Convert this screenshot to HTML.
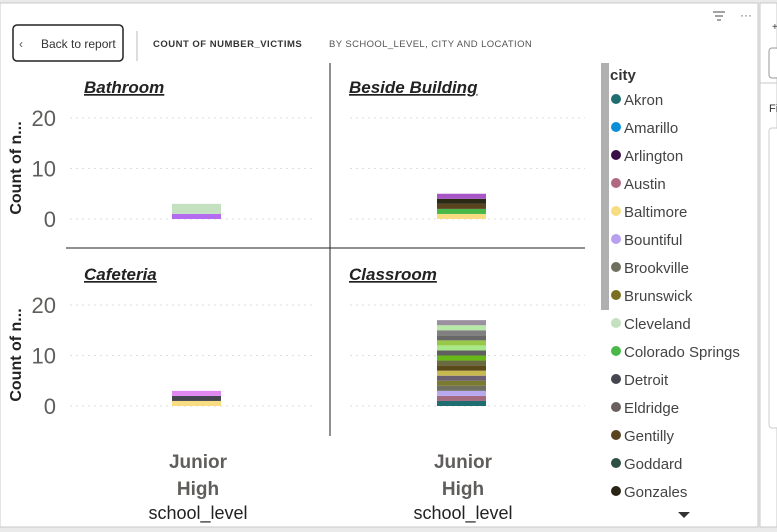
<!DOCTYPE html>
<html><head><meta charset="utf-8"><style>
body{margin:0;width:777px;height:532px;overflow:hidden;background:#fff;font-family:"Liberation Sans",sans-serif;}
svg{display:block}
</style></head><body>
<svg width="777" height="532">
<rect x="0" y="0" width="777" height="532" fill="#eaeaea"/>
<rect x="0" y="3" width="758" height="524" fill="#fff" stroke="#c8c8c8"/>
<rect x="760" y="3" width="17" height="524" fill="#fff" stroke="#c8c8c8"/>
<rect x="769" y="48" width="10" height="30" fill="#fff" stroke="#999" rx="3"/>
<line x1="760" y1="83" x2="777" y2="83" stroke="#c8c8c8"/>
<text x="769" y="112" font-size="11" fill="#333">Fi</text>
<rect x="769" y="128" width="10" height="300" fill="#fff" stroke="#ccc" rx="3"/>
<text x="772" y="30" font-size="10" fill="#333">+</text>
<g stroke="#666" stroke-width="1.2"><line x1="713" y1="12" x2="725" y2="12"/><line x1="715" y1="16" x2="723" y2="16"/><line x1="717" y1="20" x2="721" y2="20"/></g>
<text x="740" y="19" font-size="12" fill="#666">···</text>
<g>
<rect x="13" y="25" width="110" height="36" rx="4" fill="#fff" stroke="#222" stroke-width="1.5"/>
<text x="19" y="48" font-size="12" fill="#555">‹</text>
<text x="41" y="48" font-size="12" fill="#333">Back to report</text></g>
<line x1="137" y1="31" x2="137" y2="61" stroke="#bbb"/>
<text x="153" y="47" font-size="9.5" font-weight="bold" fill="#333" letter-spacing="0.5">COUNT OF NUMBER_VICTIMS</text>
<text x="329" y="47" font-size="9.5" fill="#555" letter-spacing="0.4">BY SCHOOL_LEVEL, CITY AND LOCATION</text>
<line x1="330" y1="63" x2="330" y2="436" stroke="#222"/>
<line x1="66" y1="248" x2="585" y2="248" stroke="#222"/>
<g id="chart"></g>
<g id="legend"></g>
<rect x="601" y="63" width="8" height="247" fill="#b0b0b0"/>
<text x="610" y="80" font-size="15" font-weight="bold" fill="#333">city</text>
<path d="M678 512 L690 512 L684 518 Z" fill="#333"/>
</svg>
<script>
const panels=["Bathroom","Beside Building","Cafeteria","Classroom"];
const bathroomColors=["#b36cf0","#c3e0c0"];
const bathroomValues=[1,2];
const besideColors=["#f8dc82","#48b848","#5a4420","#2a2a14","#a855c8"];
const besideValues=[1,1,1,1,1];
const cafeteriaColors=["#f8dc82","#454550","#e088f0"];
const cafeteriaValues=[1,1,1];
const classroomColors=["#1f6e72","#a46a80","#b8a8f0","#707060","#7a7a30","#6a6070","#c8b850","#5a4a1a","#6a6a40","#68b818","#606060","#a8e888","#98c848","#686868","#808080","#b8e8a8","#9a90a0"];
const classroomValues=[1,1,1,1,1,1,1,1,1,1,1,1,1,1,1,1,1];
const yTicks=[0,10,20];
const xCategory=["Junior","High"];
const cities=["Akron","Amarillo","Arlington","Austin","Baltimore","Bountiful","Brookville","Brunswick","Cleveland","Colorado Springs","Detroit","Eldridge","Gentilly","Goddard","Gonzales"];
const cityColors=["#1f6e72","#0a8fd8","#3a0f48","#b06a80","#f8dc82","#b8a0f0","#707060","#7a7020","#c3e0c0","#48b848","#454550","#6a6060","#5a4420","#2e4e44","#2a2414"];
const NS="http://www.w3.org/2000/svg";
const g=document.getElementById('chart');
function el(t,a,p){const e=document.createElementNS(NS,t);for(const k in a)e.setAttribute(k,a[k]);(p||g).appendChild(e);return e;}
const layout=[{x0:70,x1:315,zero:219,bx:172,title:84,ty:93},{x0:350,x1:585,zero:219,bx:437,title:349,ty:93},{x0:70,x1:315,zero:406,bx:172,title:84,ty:280},{x0:350,x1:585,zero:406,bx:437,title:349,ty:280}];
const series=[[bathroomValues,bathroomColors],[besideValues,besideColors],[cafeteriaValues,cafeteriaColors],[classroomValues,classroomColors]];
const pxPer=5.05;
function yScale(v,zero){return zero-v*pxPer;}
layout.forEach((L,i)=>{
  const t=el('text',{x:L.title,y:L.ty,'font-size':17,'font-weight':'bold','font-style':'italic','text-decoration':'underline',fill:'#222'});
  t.textContent=panels[i];
  
  
  yTicks.forEach(v=>{
    const y=yScale(v,L.zero);
    const gl=el('line',{x1:L.x0,x2:L.x1,y1:y,y2:y,stroke:'#ddd','stroke-dasharray':'2,4'});
    
    
    if(L.x0<100){const tl=el('text',{x:56,y:y+8,'font-size':22,fill:'#605e5c','text-anchor':'end'});tl.textContent=v;
      
      }
  });
  let acc=0;
  const [vals,cols]=series[i];
  vals.forEach((v,j)=>{
    const r=el('rect',{x:L.bx,width:49,y:yScale(acc+v,L.zero),height:v*pxPer,fill:cols[j]});
    
    
    acc+=v;
  });
});
[168,355].forEach(cy=>{
  const t=el('text',{x:0,y:0,'font-size':16,'font-weight':'bold',fill:'#222','text-anchor':'middle',transform:`translate(21,${cy}) rotate(-90)`});
  t.textContent='Count of n...';
  
  
});
[198,463].forEach(cx=>{
  xCategory.forEach((w,k)=>{
    const t=el('text',{x:cx,y:468+k*27,'font-size':19,'font-weight':'bold',fill:'#605e5c','text-anchor':'middle'});
    t.textContent=w;
    
    
  });
  const t=el('text',{x:cx,y:519,'font-size':18,fill:'#222','text-anchor':'middle'});
  t.textContent='school_level';
  
  
});
const lg=document.getElementById('legend');
cities.forEach((c,i)=>{
  const y=100+i*28;
  const grp=el('g',{},lg);
  
  
  el('circle',{cx:616,cy:y-1,r:5,fill:cityColors[i]},grp);
  const t=el('text',{x:624,y:y+5,'font-size':15,fill:'#444'},grp);
  t.textContent=c;
});
</script>
</body></html>
